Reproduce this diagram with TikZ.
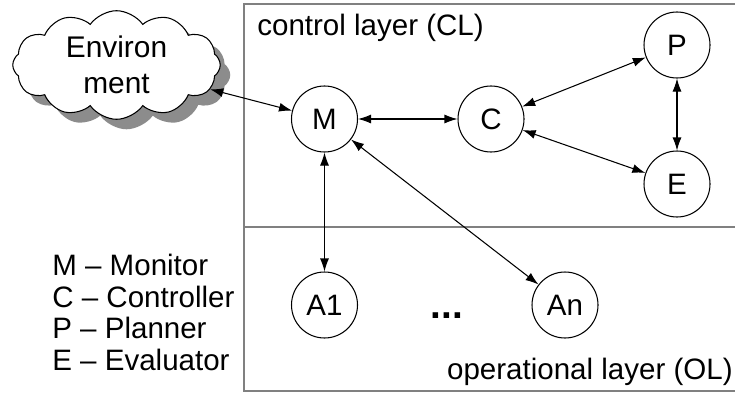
\documentclass[tikz,border=0pt]{standalone}
\usepackage{fontspec}
\setmainfont{Liberation Sans}
\usepackage{tikz}
\usetikzlibrary{shapes.symbols, shadows, arrows.meta}
\definecolor{boxgrey}{gray}{0.5}
\tikzstyle{unit}=[draw,circle,minimum size=1.32cm,inner sep=0pt,line width=0.6pt]
\tikzstyle{env}=[draw,cloud,cloud puffs=12,cloud puff arc=110,aspect=2.1,
                 minimum width=4.15cm,minimum height=2.05cm,inner sep=1pt,fill=white,
                 line width=0.6pt,align=center,font=\fontsize{17}{20.5}\selectfont,
                 drop shadow={shadow xshift=0.2cm,shadow yshift=-0.2cm,fill=black!45,opacity=1}]
\tikzstyle{layer}=[draw=boxgrey,line width=0.8pt,rectangle,inner sep=0pt,outer sep=0pt,
                   anchor=north west,minimum width=10.4cm]
\tikzstyle{link}=[{Latex[length=2.6mm,width=1.8mm]}-{Latex[length=2.6mm,width=1.8mm]},line width=0.6pt]

\begin{document}
\begin{tikzpicture}[font=\fontsize{16.8}{18}\selectfont]
  \useasboundingbox (0,0) rectangle (14.7,-7.88);

  % the two layers
  \node (cl) [layer, minimum height=4.46cm] at (4.88,-0.08) {};
  \node (ol) [layer, minimum height=3.28cm] at (4.88,-4.54) {};
  \node (cltext) [anchor=west, inner sep=0pt] at (5.14,-0.56) {control layer (CL)};
  \node (oltext) [anchor=east, inner sep=0pt] at (14.66,-7.44) {operational layer (OL)};

  \node (env) [env] at (2.33,-1.3) {Environ\\ment};

  \foreach \n/\x/\y in {M/6.49/-2.38, C/9.82/-2.38, P/13.54/-0.9, E/13.54/-3.68, A1/6.49/-6.1, An/11.3/-6.1}{
    \node[unit] (\n) at (\x,\y) {\n};
  }

  \node (dots) [anchor=base, font=\fontsize{22}{24}\selectfont\bfseries] at (8.94,-6.36) {...};

  \foreach \a/\b in {env/M, M/C, C/P, C/E, P/E, M/A1, M/An}{
    \draw[link] (\a) -- (\b);
  }

  \node (legend) [anchor=west, align=left, inner sep=0pt] at (1.04,-6.25)
    {M \textendash{} Monitor\\C \textendash{} Controller\\P \textendash{} Planner\\E \textendash{} Evaluator};

\end{tikzpicture}
\end{document}
